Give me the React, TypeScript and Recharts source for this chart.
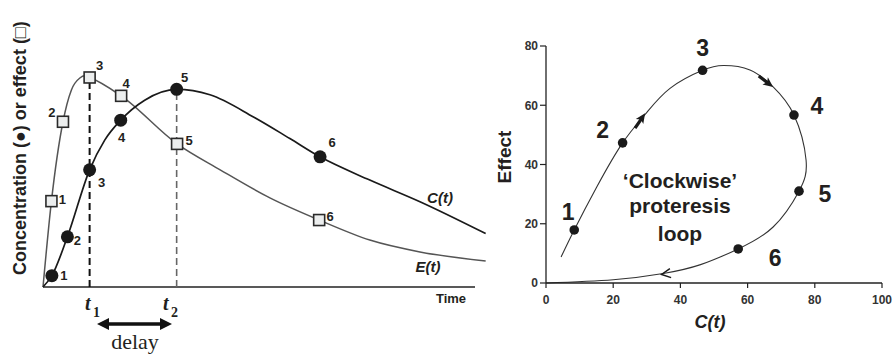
import React from "react";
import {
  ComposedChart,
  Line,
  Scatter,
  XAxis,
  YAxis,
  ReferenceLine,
} from "recharts";

// ---- left panel: concentration C(t) and effect E(t) vs time (no numeric scale in source)
const markerIds = [1, 2, 3, 4, 5, 6];
const concTimes = [2.0, 5.5, 10.5, 17.5, 30.1, 62.4];
const concValues = [0.21, 0.93, 2.17, 3.09, 3.66, 2.41];
const effectTimes = [1.9, 4.5, 10.5, 17.6, 30.2, 62.2];
const effectValues = [1.59, 3.06, 3.88, 3.54, 2.65, 1.24];

const concCurveT = [0, 2.0, 5.5, 10.5, 13.9, 17.5, 22.9, 30.1, 37.6, 47.4, 55.6, 62.4, 73.6, 84.9, 99.7];
const concCurveV = [0, 0.21, 0.93, 2.17, 2.72, 3.09, 3.46, 3.66, 3.56, 3.15, 2.75, 2.41, 1.98, 1.58, 0.99];
const effectCurveT = [0, 1.9, 4.5, 6.4, 8.3, 9.4, 10.5, 17.6, 30.2, 39.9, 51.1, 62.2, 73.6, 84.9, 99.7];
const effectCurveV = [0, 1.59, 3.06, 3.65, 3.87, 3.91, 3.88, 3.54, 2.65, 2.17, 1.65, 1.24, 0.87, 0.65, 0.48];
const leftTicks = [0, 1, 2, 3, 4, 5];
const timeAxisEnd = 97.3;

// ---- right panel: effect vs C(t), clockwise loop
const loopC = [4.5, 8.4, 15.1, 22.8, 29.5, 36.9, 46.6, 52.8, 60.7, 67.6, 73.8, 77.4, 75.3, 67.6, 57.2, 46, 34.9, 20, 0];
const loopE = [8.8, 17.9, 32.4, 47.3, 56.9, 65.7, 71.8, 73.4, 71.9, 66.2, 56.7, 41.5, 31, 18.9, 11.5, 6.2, 3.2, 1.1, 0];
const loopMarkC = [8.4, 22.8, 46.6, 73.8, 75.3, 57.2];
const loopMarkE = [17.9, 47.3, 71.8, 56.7, 31, 11.5];
const arrowC = [29.5, 67.6, 34.4];
const arrowE = [57.3, 66.2, 2.9];
const cTicks = [0, 20, 40, 60, 80, 100];
const effectTicks = [0, 20, 40, 60, 80];

const concCurve = concCurveT.map((t, i) => ({ t, v: concCurveV[i] }));
const effectCurve = effectCurveT.map((t, i) => ({ t, v: effectCurveV[i] }));
const concMarks = markerIds.map((n, i) => ({ n, t: concTimes[i], v: concValues[i] }));
const effectMarks = markerIds.map((n, i) => ({ n, t: effectTimes[i], v: effectValues[i] }));
const loopLine = loopC.map((c, i) => ({ c, e: loopE[i] }));
const loopMarks = markerIds.map((n, i) => ({ n, c: loopMarkC[i], e: loopMarkE[i] }));
const loopArrows = arrowC.map((c, i) => ({ k: i, c, e: arrowE[i] }));

// label placement (px, relative to marker centre)
const sqLabelOff = [[11, -2], [-11, -9], [10, -12], [5, -12], [12, -3], [11, -4]];
const dotLabelOff = [[12, 0], [10, 4], [12, 13], [1, 17], [8, -12], [12, -14]];
const loopLabelOff = [[-6, -18], [-20, -13], [0, -22], [23, -9], [26, 3], [37, 9]];
const arrowAngles = [-56, 37, 172];

const SANS = '"Liberation Sans", Arial, sans-serif';
const SERIF = '"Liberation Serif", "Times New Roman", serif';
const INK = "#231f20";

const SquareMark = (props: any) => {
  const { cx, cy, payload } = props;
  const [dx, dy] = sqLabelOff[payload.n - 1];
  return (
    <g>
      <rect x={cx - 5.5} y={cy - 5.5} width={11} height={11} fill="#eceeee" stroke="#2a2a2a" strokeWidth={1.6} />
      <text x={cx + dx} y={cy + dy + 4.5} textAnchor="middle" fontSize={13} fontWeight="bold" fontFamily={SANS} fill={INK}>
        {payload.n}
      </text>
    </g>
  );
};

const DotMark = (props: any) => {
  const { cx, cy, payload } = props;
  const [dx, dy] = dotLabelOff[payload.n - 1];
  return (
    <g>
      <circle cx={cx} cy={cy} r={6.5} fill="#1a1a1a" />
      <text x={cx + dx} y={cy + dy + 4.5} textAnchor="middle" fontSize={13} fontWeight="bold" fontFamily={SANS} fill={INK}>
        {payload.n}
      </text>
    </g>
  );
};

const LoopMark = (props: any) => {
  const { cx, cy, payload } = props;
  const [dx, dy] = loopLabelOff[payload.n - 1];
  return (
    <g>
      <circle cx={cx} cy={cy} r={4.8} fill="#1a1a1a" />
      <text x={cx + dx} y={cy + dy + 8} textAnchor="middle" fontSize={23} fontWeight="bold" fontFamily={SANS} fill={INK}>
        {payload.n}
      </text>
    </g>
  );
};

const ArrowMark = (props: any) => {
  const { cx, cy, payload } = props;
  const a = arrowAngles[payload.k];
  if (payload.k === 2) {
    return (
      <g transform={`translate(${cx},${cy}) rotate(${a})`}>
        <path d="M-9,-4.5 L0,0 L-9,4.5" fill="none" stroke="#1a1a1a" strokeWidth={1.5} />
      </g>
    );
  }
  return (
    <g transform={`translate(${cx},${cy}) rotate(${a})`}>
      <line x1={-18} y1={0} x2={-7} y2={0} stroke="#1a1a1a" strokeWidth={3.2} />
      <path d="M0,0 L-10,-4.5 L-7.5,0 L-10,4.5 Z" fill="#1a1a1a" />
    </g>
  );
};

export default function App() {
  return (
    <div
      style={{
        position: "absolute",
        left: 0,
        top: 0,
        width: 893,
        height: 354,
        background: "#fff",
        overflow: "hidden",
        fontFamily: SANS,
      }}
    >
      <div style={{ position: "absolute", left: 0, top: 0 }}>
        <ComposedChart width={500} height={354} margin={{ top: 17, right: 13, bottom: 67, left: 43 }}>
          <XAxis dataKey="t" type="number" domain={[0, 100]} hide height={0} />
          <YAxis
            dataKey="v"
            type="number"
            domain={[0, 5]}
            ticks={leftTicks}
            width={0}
            tick={false}
            tickSize={4}
            axisLine={{ stroke: "#222", strokeWidth: 1.4 }}
            tickLine={{ stroke: "#222", strokeWidth: 1.2 }}
          />
          <ReferenceLine
            segment={[{ x: 0, y: 0 }, { x: timeAxisEnd, y: 0 }]}
            stroke="#222"
            strokeWidth={1.4}
            ifOverflow="visible"
          />
          <ReferenceLine
            segment={[{ x: concTimes[2], y: 0 }, { x: concTimes[2], y: effectValues[2] }]}
            stroke="#111"
            strokeWidth={2}
            strokeDasharray="7 4"
          />
          <ReferenceLine
            segment={[{ x: concTimes[4], y: 0 }, { x: concTimes[4], y: concValues[4] }]}
            stroke="#666"
            strokeWidth={1.6}
            strokeDasharray="7 4"
          />
          <Line data={effectCurve} dataKey="v" type="monotone" dot={false} stroke="#555" strokeWidth={1.5} isAnimationActive={false} />
          <Line data={concCurve} dataKey="v" type="monotone" dot={false} stroke="#1a1a1a" strokeWidth={1.7} isAnimationActive={false} />
          <Scatter data={effectMarks} shape={SquareMark} isAnimationActive={false} />
          <Scatter data={concMarks} shape={DotMark} isAnimationActive={false} />
        </ComposedChart>
      </div>

      <div style={{ position: "absolute", left: 490, top: 0 }}>
        <ComposedChart width={403} height={354} margin={{ top: 46, right: 11, bottom: 41, left: 16 }}>
          <XAxis
            dataKey="c"
            type="number"
            domain={[0, 100]}
            ticks={cTicks}
            height={30}
            tickSize={5}
            tickMargin={7}
            axisLine={{ stroke: "#222", strokeWidth: 1.3 }}
            tickLine={{ stroke: "#222", strokeWidth: 1.2 }}
            tick={{ fontSize: 12, fontWeight: "bold", fill: "#333", fontFamily: SANS }}
          />
          <YAxis
            dataKey="e"
            type="number"
            domain={[0, 80]}
            ticks={effectTicks}
            width={40}
            tickSize={6}
            tickMargin={2}
            axisLine={{ stroke: "#222", strokeWidth: 1.3 }}
            tickLine={{ stroke: "#222", strokeWidth: 1.2 }}
            tick={{ fontSize: 12, fontWeight: "bold", fill: "#333", fontFamily: SANS }}
          />
          <Line data={loopLine} dataKey="e" type="natural" dot={false} stroke="#333" strokeWidth={1.1} isAnimationActive={false} />
          <Scatter data={loopArrows} shape={ArrowMark} isAnimationActive={false} />
          <Scatter data={loopMarks} shape={LoopMark} isAnimationActive={false} />
        </ComposedChart>
      </div>

      <svg width={893} height={354} style={{ position: "absolute", left: 0, top: 0, pointerEvents: "none" }}>
        {/* left panel annotations */}
        <text
          x={26}
          y={275}
          transform="rotate(-90 26 275)"
          fontSize={18}
          fontWeight="bold"
          fontFamily={SANS}
          fill={INK}
        >
          Concentration (●) or effect (□)
        </text>
        <text x={451} y={303} textAnchor="middle" fontSize={13} fontWeight="bold" fill={INK}>
          Time
        </text>
        <text x={440} y={203} textAnchor="middle" fontSize={15} fontWeight="bold" fontStyle="italic" fill={INK}>
          C(t)
        </text>
        <text x={428} y={272} textAnchor="middle" fontSize={15} fontWeight="bold" fontStyle="italic" fill={INK}>
          E(t)
        </text>
        <g fontFamily={SERIF} fill={INK} fontWeight="bold">
          <text x={85} y={310} fontSize={20} fontStyle="italic">t</text>
          <text x={93} y={317} fontSize={14}>1</text>
          <text x={163} y={310} fontSize={20} fontStyle="italic">t</text>
          <text x={171} y={317} fontSize={14}>2</text>
        </g>
        <line x1={105} y1={324} x2={164} y2={324} stroke="#111" strokeWidth={3.5} />
        <path d="M97,324 L109,318 L109,330 Z" fill="#111" />
        <path d="M172,324 L160,318 L160,330 Z" fill="#111" />
        <text x={135} y={349} textAnchor="middle" fontSize={22} fontFamily={SERIF} fill={INK}>
          delay
        </text>

        {/* right panel annotations */}
        <text x={511} y={157} transform="rotate(-90 511 157)" textAnchor="middle" fontSize={19} fontWeight="bold" fill={INK}>
          Effect
        </text>
        <text x={710} y={328} textAnchor="middle" fontSize={18} fontWeight="bold" fontStyle="italic" fill={INK}>
          C(t)
        </text>
        <g fontSize={21} fontWeight="bold" fill={INK} textAnchor="middle">
          <text x={680} y={188}>‘Clockwise’</text>
          <text x={680} y={213}>proteresis</text>
          <text x={680} y={241}>loop</text>
        </g>
      </svg>
    </div>
  );
}
